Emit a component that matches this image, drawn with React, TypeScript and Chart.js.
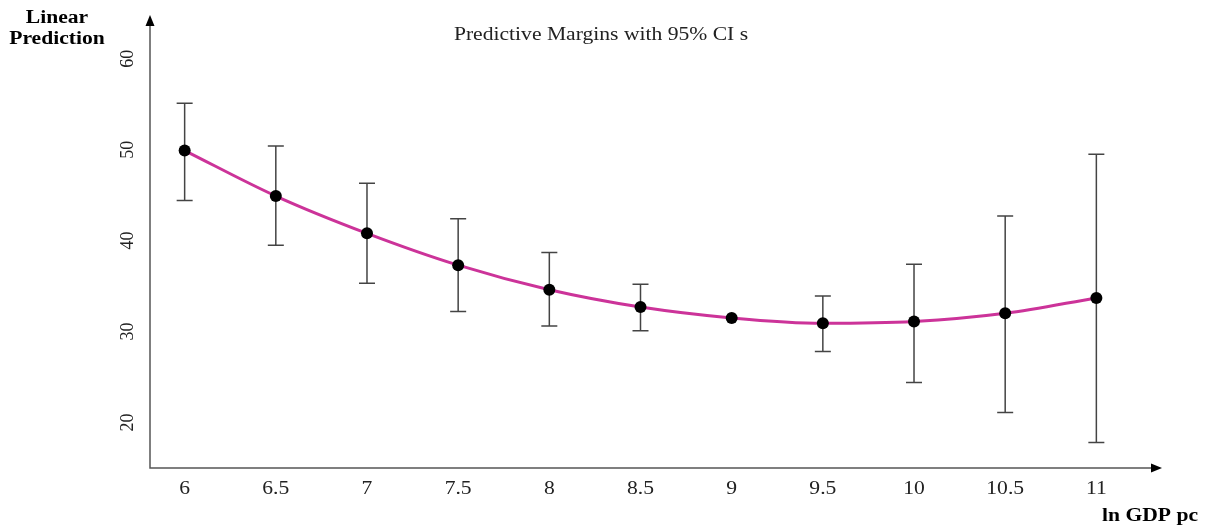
import React, { useEffect, useRef } from "react";
import { Chart, registerables } from "chart.js";

Chart.register(...registerables);

const xValues = [6, 6.5, 7, 7.5, 8, 8.5, 9, 9.5, 10, 10.5, 11];
const margins = [49.9, 44.9, 40.8, 37.3, 34.6, 32.7, 31.5, 30.9, 31.1, 32.0, 33.7];
const ciLow: (number | null)[] = [44.4, 39.5, 35.3, 32.2, 30.6, 30.1, null, 27.8, 24.4, 21.1, 17.8];
const ciHigh: (number | null)[] = [55.1, 50.4, 46.3, 42.4, 38.7, 35.2, null, 33.9, 37.4, 42.7, 49.5];
const xTickLabels = ["6", "6.5", "7", "7.5", "8", "8.5", "9", "9.5", "10", "10.5", "11"];
const yTicks = [20, 30, 40, 50, 60];

const title = "Predictive Margins with 95% CI s";
const yTitle = ["Linear", "Prediction"];
const xTitle = "ln GDP pc";

const SERIF = '"Liberation Serif", "Times New Roman", serif';
const STRETCH = 1.2;

function wideText(ctx: CanvasRenderingContext2D, text: string, x: number, y: number) {
  ctx.save();
  ctx.translate(x, y);
  ctx.scale(STRETCH, 1);
  ctx.fillText(text, 0, 0);
  ctx.restore();
}

const decorPlugin = {
  id: "decor",
  beforeDatasetsDraw(chart: any) {
    const { ctx, chartArea, scales } = chart;
    const xs = scales.x;
    const ys = scales.y;
    ctx.save();
    // axes
    ctx.strokeStyle = "#555";
    ctx.lineWidth = 1.5;
    ctx.beginPath();
    ctx.moveTo(chartArea.left, chartArea.top + 8);
    ctx.lineTo(chartArea.left, chartArea.bottom);
    ctx.lineTo(chartArea.right - 8, chartArea.bottom);
    ctx.stroke();
    ctx.fillStyle = "#000";
    ctx.beginPath();
    ctx.moveTo(chartArea.left, chartArea.top);
    ctx.lineTo(chartArea.left - 4.5, chartArea.top + 11);
    ctx.lineTo(chartArea.left + 4.5, chartArea.top + 11);
    ctx.closePath();
    ctx.fill();
    ctx.beginPath();
    ctx.moveTo(chartArea.right, chartArea.bottom);
    ctx.lineTo(chartArea.right - 11, chartArea.bottom - 4.5);
    ctx.lineTo(chartArea.right - 11, chartArea.bottom + 4.5);
    ctx.closePath();
    ctx.fill();

    // error bars
    ctx.strokeStyle = "#444";
    ctx.lineWidth = 1.5;
    xValues.forEach((xv, i) => {
      const lo = ciLow[i];
      const hi = ciHigh[i];
      if (lo == null || hi == null) return;
      const px = xs.getPixelForValue(xv);
      const pLo = ys.getPixelForValue(lo);
      const pHi = ys.getPixelForValue(hi);
      ctx.beginPath();
      ctx.moveTo(px, pLo);
      ctx.lineTo(px, pHi);
      ctx.moveTo(px - 8, pLo);
      ctx.lineTo(px + 8, pLo);
      ctx.moveTo(px - 8, pHi);
      ctx.lineTo(px + 8, pHi);
      ctx.stroke();
    });

    // tick labels
    ctx.fillStyle = "#222";
    ctx.font = `18px ${SERIF}`;
    ctx.textAlign = "center";
    ctx.textBaseline = "middle";
    xValues.forEach((xv, i) => {
      wideText(ctx, xTickLabels[i], xs.getPixelForValue(xv), chartArea.bottom + 21);
    });
    yTicks.forEach((yv) => {
      const py = ys.getPixelForValue(yv);
      ctx.save();
      ctx.translate(chartArea.left - 22, py);
      ctx.rotate(-Math.PI / 2);
      ctx.fillText(String(yv), 0, 0);
      ctx.restore();
    });

    // title
    ctx.fillStyle = "#222";
    ctx.font = `18px ${SERIF}`;
    wideText(ctx, title, 601, 35);

    // axis titles
    ctx.fillStyle = "#000";
    ctx.font = `bold 18px ${SERIF}`;
    wideText(ctx, yTitle[0], 57, 18);
    wideText(ctx, yTitle[1], 57, 39);
    ctx.textAlign = "right";
    wideText(ctx, xTitle, 1198, 516);
    ctx.restore();
  },
};

export default function App() {
  const canvasRef = useRef<HTMLCanvasElement | null>(null);

  useEffect(() => {
    const canvas = canvasRef.current;
    if (!canvas) return;
    const chart = new Chart(canvas, {
      type: "line",
      data: {
        datasets: [
          {
            data: xValues.map((x, i) => ({ x, y: margins[i] })),
            borderColor: "#cc3399",
            borderWidth: 3,
            tension: 0.4,
            cubicInterpolationMode: "monotone",
            pointRadius: 6,
            pointBackgroundColor: "#000",
            pointBorderColor: "#000",
            pointBorderWidth: 0,
            fill: false,
          },
        ],
      },
      options: {
        responsive: false,
        animation: false,
        maintainAspectRatio: false,
        layout: { padding: { left: 150, right: 45, top: 15, bottom: 61 } },
        plugins: {
          legend: { display: false },
          tooltip: { enabled: false },
          title: { display: false },
        },
        scales: {
          x: { type: "linear", display: false, min: 5.81, max: 11.36 },
          y: { type: "linear", display: false, min: 15, max: 64.8 },
        },
      },
      plugins: [decorPlugin],
    });
    return () => chart.destroy();
  }, []);

  return (
    <div style={{ position: "fixed", left: 0, top: 0, width: 1207, height: 529, background: "#fff" }}>
      <canvas ref={canvasRef} width={1207} height={529} style={{ display: "block" }} />
    </div>
  );
}
